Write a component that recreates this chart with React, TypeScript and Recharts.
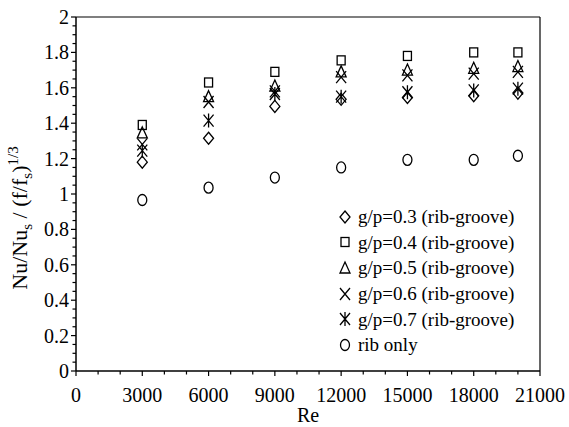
import React from 'react';
import { ScatterChart, Scatter, XAxis, YAxis, ReferenceLine, Label } from 'recharts';

const reValues = [3000, 6000, 9000, 12000, 15000, 18000, 20000];
const gp03 = [1.18, 1.315, 1.495, 1.535, 1.545, 1.555, 1.57];
const gp04 = [1.39, 1.63, 1.69, 1.755, 1.78, 1.8, 1.8];
const gp05 = [1.345, 1.55, 1.61, 1.69, 1.7, 1.71, 1.72];
const gp06 = [1.28, 1.52, 1.58, 1.66, 1.67, 1.68, 1.69];
const gp07 = [1.245, 1.415, 1.565, 1.55, 1.575, 1.585, 1.595];
const ribOnly = [0.966, 1.036, 1.093, 1.15, 1.193, 1.193, 1.216];

const xMajorTicks = [0, 3000, 6000, 9000, 12000, 15000, 18000, 21000];
const xAllTicks = [0, 1000, 2000, 3000, 4000, 5000, 6000, 7000, 8000, 9000, 10000, 11000, 12000, 13000, 14000, 15000, 16000, 17000, 18000, 19000, 20000, 21000];
const yMajorTicks = [0, 0.2, 0.4, 0.6, 0.8, 1, 1.2, 1.4, 1.6, 1.8, 2];
const yAllTicks = [0, 0.05, 0.1, 0.15, 0.2, 0.25, 0.3, 0.35, 0.4, 0.45, 0.5, 0.55, 0.6, 0.65, 0.7, 0.75, 0.8, 0.85, 0.9, 0.95, 1, 1.05, 1.1, 1.15, 1.2, 1.25, 1.3, 1.35, 1.4, 1.45, 1.5, 1.55, 1.6, 1.65, 1.7, 1.75, 1.8, 1.85, 1.9, 1.95, 2];

const FONT = '"Liberation Serif", "Times New Roman", serif';
const SW = 1.3;

const toPoints = (ys: number[]) => reValues.map((x, i) => ({ x, y: ys[i] }));

type MarkKind = 'diamond' | 'square' | 'triangle' | 'cross' | 'asterisk' | 'circle';

const Mark = ({ kind, cx, cy }: { kind: MarkKind; cx: number; cy: number }) => {
  const p = { stroke: '#000', strokeWidth: SW, fill: 'none' };
  switch (kind) {
    case 'diamond':
      return <path d={`M${cx},${cy - 6}L${cx + 5},${cy}L${cx},${cy + 6}L${cx - 5},${cy}Z`} {...p} />;
    case 'square':
      return <rect x={cx - 4} y={cy - 4.5} width={8} height={9} {...p} />;
    case 'triangle':
      return <path d={`M${cx},${cy - 6}L${cx + 5},${cy + 5}L${cx - 5},${cy + 5}Z`} {...p} />;
    case 'cross':
      return <path d={`M${cx - 5},${cy - 6}L${cx + 5},${cy + 6}M${cx + 5},${cy - 6}L${cx - 5},${cy + 6}`} {...p} />;
    case 'asterisk':
      return <path d={`M${cx - 5},${cy - 6}L${cx + 5},${cy + 6}M${cx + 5},${cy - 6}L${cx - 5},${cy + 6}M${cx},${cy - 7}L${cx},${cy + 7}`} {...p} />;
    default:
      return <ellipse cx={cx} cy={cy} rx={4.5} ry={5.5} {...p} />;
  }
};

const series: { name: string; kind: MarkKind; values: number[] }[] = [
  { name: 'g/p=0.3 (rib-groove)', kind: 'diamond', values: gp03 },
  { name: 'g/p=0.4 (rib-groove)', kind: 'square', values: gp04 },
  { name: 'g/p=0.5 (rib-groove)', kind: 'triangle', values: gp05 },
  { name: 'g/p=0.6 (rib-groove)', kind: 'cross', values: gp06 },
  { name: 'g/p=0.7 (rib-groove)', kind: 'asterisk', values: gp07 },
  { name: 'rib only', kind: 'circle', values: ribOnly },
];

const XTick = (props: any) => {
  const { x, y, payload } = props;
  const v = payload.value;
  const major = xMajorTicks.includes(v);
  return (
    <g>
      <line x1={x} x2={x} y1={y} y2={y + (major ? 5 : 3.5)} stroke="#000" strokeWidth={1.2} />
      {major && (
        <text x={x} y={y + 31} textAnchor="middle" fontFamily={FONT} fontSize={20} fill="#000">
          {v}
        </text>
      )}
    </g>
  );
};

const YTick = (props: any) => {
  const { x, y, payload } = props;
  const v = payload.value;
  const major = yMajorTicks.includes(v);
  return (
    <g>
      <line x1={x} x2={x - (major ? 5 : 3.5)} y1={y} y2={y} stroke="#000" strokeWidth={1.2} />
      {major && (
        <text x={x - 7} y={y + 7} textAnchor="end" fontFamily={FONT} fontSize={20} fill="#000">
          {v}
        </text>
      )}
    </g>
  );
};

const LegendBox = () => (
  <div style={{ position: 'absolute', left: 337, top: 204, fontFamily: FONT, fontSize: 19, color: '#000', lineHeight: 1 }}>
    {series.map((s) => (
      <div key={s.name} style={{ display: 'flex', alignItems: 'center', height: 25.6, whiteSpace: 'nowrap' }}>
        <svg width={16} height={16} style={{ marginRight: 5 }}>
          <Mark kind={s.kind} cx={8} cy={8} />
        </svg>
        <span>{s.name}</span>
      </div>
    ))}
  </div>
);

const YTitle = () => (
  <text transform="translate(27,218) rotate(-90)" textAnchor="middle" fontFamily={FONT} fontSize={22} fill="#000">
    Nu/Nu<tspan dy={5} fontSize={15}>s</tspan>
    <tspan dy={-5}> / (f/f</tspan>
    <tspan dy={5} fontSize={15}>s</tspan>
    <tspan dy={-5}>)</tspan>
    <tspan dy={-9} fontSize={15}>1/3</tspan>
  </text>
);

const XTitle = (props: any) => {
  const vb = props.viewBox || { x: 76, width: 464 };
  return (
    <text x={vb.x + vb.width / 2} y={422} textAnchor="middle" fontFamily={FONT} fontSize={20} fill="#000">
      Re
    </text>
  );
};

export default function App() {
  return (
    <div style={{ position: 'absolute', left: 0, top: 0, width: 569, height: 427, background: '#fff', fontFamily: FONT }}>
      <ScatterChart width={569} height={427} margin={{ top: 17, right: 29, left: 0, bottom: 0 }}>
        <XAxis
          type="number"
          dataKey="x"
          domain={[0, 21000]}
          ticks={xAllTicks}
          interval={0}
          tick={<XTick />}
          tickSize={0}
          tickMargin={0}
          tickLine={false}
          axisLine={{ stroke: '#000', strokeWidth: 1.5 }}
          height={56}
          allowDataOverflow
        >
          <Label content={<XTitle />} />
        </XAxis>
        <YAxis
          type="number"
          dataKey="y"
          domain={[0, 2]}
          ticks={yAllTicks}
          interval={0}
          tick={<YTick />}
          tickSize={0}
          tickMargin={0}
          tickLine={false}
          axisLine={{ stroke: '#000', strokeWidth: 1.5 }}
          width={76}
          allowDataOverflow
        >
          <Label content={<YTitle />} />
        </YAxis>
        <ReferenceLine y={2} stroke="#000" strokeWidth={1.2} />
        <ReferenceLine x={21000} stroke="#000" strokeWidth={1.2} />
        {series.map((s) => (
          <Scatter
            key={s.name}
            name={s.name}
            data={toPoints(s.values)}
            isAnimationActive={false}
            shape={(p: any) => <Mark kind={s.kind} cx={p.cx} cy={p.cy} />}
          />
        ))}
      </ScatterChart>
      <LegendBox />
    </div>
  );
}
